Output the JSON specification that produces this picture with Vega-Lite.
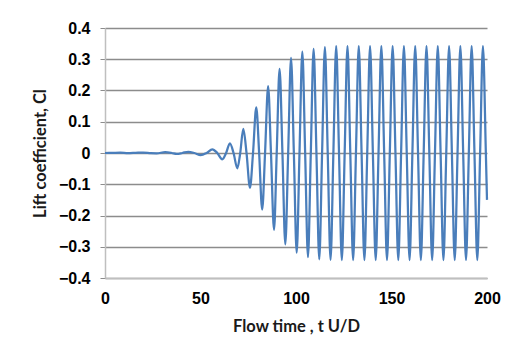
{
  "$schema": "https://vega.github.io/schema/vega-lite/v6.json",
  "autosize": {"type": "none"},
  "width": 382,
  "height": 250,
  "padding": {"left": 105, "top": 28, "right": 27, "bottom": 72},
  "background": "white",
  "config": {
    "view": {"stroke": null},
    "axis": {"labelFont": "Liberation Sans", "titleFont": "Lato", "labelFontWeight": "bold", "titleFontWeight": "bold", "labelColor": "#000000", "titleColor": "#1a1a1a", "labelFlush": false}
  },
  "data": {"values": [
    {"t": 0, "cl": 0}, {"t": 4, "cl": 0.0005}, {"t": 8, "cl": 0.001}, {"t": 12, "cl": -0.0005},
    {"t": 16, "cl": 0.0005}, {"t": 20, "cl": 0.0015}, {"t": 24, "cl": -0.0005}, {"t": 27, "cl": -0.001},
    {"t": 31.5, "cl": 0.0025}, {"t": 35, "cl": 0}, {"t": 37.5, "cl": -0.003}, {"t": 40.5, "cl": 0},
    {"t": 43.6, "cl": 0.004}, {"t": 46.8, "cl": 0}, {"t": 50.1, "cl": -0.007}, {"t": 53.2, "cl": 0},
    {"t": 56.2, "cl": 0.012}, {"t": 58.8, "cl": 0}, {"t": 61.4, "cl": -0.02}, {"t": 63.4, "cl": 0},
    {"t": 65.4, "cl": 0.031}, {"t": 67.3, "cl": 0}, {"t": 69.3, "cl": -0.049}, {"t": 70.8, "cl": 0},
    {"t": 72.4, "cl": 0.077}, {"t": 74.1, "cl": 0}, {"t": 75.9, "cl": -0.111}, {"t": 77.5, "cl": 0},
    {"t": 79.2, "cl": 0.146}, {"t": 80.7, "cl": 0}, {"t": 82.3, "cl": -0.181}, {"t": 83.8, "cl": 0},
    {"t": 85.4, "cl": 0.214}, {"t": 86.9, "cl": 0}, {"t": 88.5, "cl": -0.246}, {"t": 89.9, "cl": 0},
    {"t": 91.4, "cl": 0.269}, {"t": 92.9, "cl": 0}, {"t": 94.4, "cl": -0.292}, {"t": 95.9, "cl": 0},
    {"t": 97.4, "cl": 0.304}, {"t": 98.88, "cl": 0}, {"t": 100.36, "cl": -0.319}, {"t": 101.83, "cl": 0},
    {"t": 103.31, "cl": 0.324}, {"t": 104.79, "cl": 0}, {"t": 106.27, "cl": -0.333}, {"t": 107.75, "cl": 0},
    {"t": 109.22, "cl": 0.333}, {"t": 110.7, "cl": 0}, {"t": 112.18, "cl": -0.34}, {"t": 113.66, "cl": 0},
    {"t": 115.13, "cl": 0.339}, {"t": 116.61, "cl": 0}, {"t": 118.09, "cl": -0.342}, {"t": 119.57, "cl": 0},
    {"t": 121.04, "cl": 0.342}, {"t": 122.52, "cl": 0}, {"t": 124.0, "cl": -0.343}, {"t": 125.48, "cl": 0},
    {"t": 126.95, "cl": 0.342}, {"t": 128.43, "cl": 0}, {"t": 129.91, "cl": -0.343}, {"t": 131.39, "cl": 0},
    {"t": 132.86, "cl": 0.342}, {"t": 134.34, "cl": 0}, {"t": 135.82, "cl": -0.343}, {"t": 137.3, "cl": 0},
    {"t": 138.77, "cl": 0.342}, {"t": 140.25, "cl": 0}, {"t": 141.73, "cl": -0.343}, {"t": 143.21, "cl": 0},
    {"t": 144.68, "cl": 0.342}, {"t": 146.16, "cl": 0}, {"t": 147.64, "cl": -0.343}, {"t": 149.12, "cl": 0},
    {"t": 150.59, "cl": 0.342}, {"t": 152.07, "cl": 0}, {"t": 153.55, "cl": -0.343}, {"t": 155.03, "cl": 0},
    {"t": 156.5, "cl": 0.342}, {"t": 157.98, "cl": 0}, {"t": 159.46, "cl": -0.343}, {"t": 160.94, "cl": 0},
    {"t": 162.41, "cl": 0.342}, {"t": 163.89, "cl": 0}, {"t": 165.37, "cl": -0.343}, {"t": 166.85, "cl": 0},
    {"t": 168.32, "cl": 0.342}, {"t": 169.8, "cl": 0}, {"t": 171.28, "cl": -0.343}, {"t": 172.76, "cl": 0},
    {"t": 174.23, "cl": 0.342}, {"t": 175.71, "cl": 0}, {"t": 177.19, "cl": -0.343}, {"t": 178.67, "cl": 0},
    {"t": 180.14, "cl": 0.342}, {"t": 181.62, "cl": 0}, {"t": 183.1, "cl": -0.343}, {"t": 184.58, "cl": 0},
    {"t": 186.05, "cl": 0.342}, {"t": 187.53, "cl": 0}, {"t": 189.01, "cl": -0.343}, {"t": 190.49, "cl": 0},
    {"t": 191.96, "cl": 0.342}, {"t": 193.44, "cl": 0}, {"t": 194.92, "cl": -0.343}, {"t": 196.4, "cl": 0},
    {"t": 197.87, "cl": 0.342}, {"t": 199.4, "cl": 0}, {"t": 200, "cl": -0.15}
  ]},
  "mark": {"type": "line", "interpolate": "monotone", "color": "#4a7ebb", "strokeWidth": 2.25},
  "encoding": {
    "x": {
      "field": "t", "type": "quantitative",
      "scale": {"domain": [0, 200], "nice": false, "zero": false},
      "axis": {
        "values": [0, 50, 100, 150, 200], "grid": false, "ticks": false,
        "domainColor": "#bfbfbf", "domainWidth": 1.5,
        "labelFontSize": 16, "labelPadding": 12,
        "title": "Flow time , t U/D", "titleFontSize": 16.5, "titlePadding": 12
      }
    },
    "y": {
      "field": "cl", "type": "quantitative",
      "scale": {"domain": [-0.4, 0.4], "nice": false},
      "axis": {
        "values": [-0.4, -0.3, -0.2, -0.1, 0, 0.1, 0.2, 0.3, 0.4],
        "labelExpr": "datum.value == 0 ? '0' : format(datum.value, '.1f')",
        "grid": true, "gridColor": "#8c8c8c", "gridWidth": 1.5,
        "ticks": true, "tickSize": 5, "tickColor": "#8c8c8c", "tickWidth": 1,
        "domainColor": "#bfbfbf", "domainWidth": 1.5,
        "labelFontSize": 16, "labelPadding": 10,
        "title": "Lift coefficient, Cl", "titleFontSize": 16.5, "titlePadding": 10
      }
    }
  }
}
